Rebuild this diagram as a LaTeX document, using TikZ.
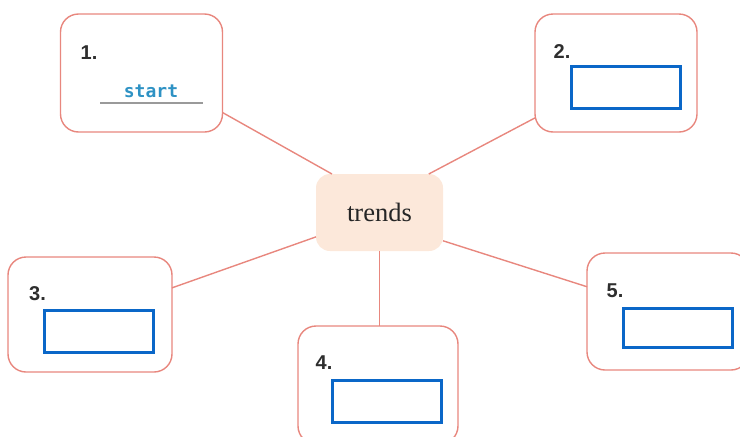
\documentclass[tikz,border=0pt]{standalone}
\usepackage{fontspec}
\setmainfont{Liberation Serif}
\newfontfamily\numfont{Liberation Sans}
\newfontfamily\handfont{DejaVu Sans Mono}
\definecolor{salmon}{HTML}{E8877E}
\definecolor{peach}{HTML}{FCE8DA}
\definecolor{ansblue}{HTML}{0A67C8}
\definecolor{numgray}{HTML}{2E2E2E}
\definecolor{startblue}{HTML}{2E92C4}
\definecolor{linegray}{HTML}{9A9A9A}
\begin{document}
\begin{tikzpicture}[x=1pt,y=-1pt,
  outerbox/.style={draw=salmon,line width=1.4pt,rounded corners=18pt,fill=white,inner sep=0pt,outer sep=0pt},
  hub/.style={fill=peach,rounded corners=14pt,minimum width=127pt,minimum height=77pt,inner sep=0pt,outer sep=0pt,font=\fontsize{26.5}{30}\selectfont,text=black!85},
  link/.style={draw=salmon,line width=1.4pt},
  numlabel/.style={inner sep=0pt,font=\numfont\bfseries\fontsize{20}{24}\selectfont,text=numgray},
  answer/.style={draw=ansblue,line width=3pt,inner sep=0pt,minimum width=109pt,minimum height=42pt}]
\useasboundingbox (0,0) rectangle (740,437);
\clip (0,0) rectangle (740,437);
% outer boxes
\node[outerbox,minimum width=162pt,minimum height=118pt] (b1) at (141.5,73) {};
\node[outerbox,minimum width=162pt,minimum height=118pt] (b2) at (616,73) {};
\node[outerbox,minimum width=164pt,minimum height=115pt] (b3) at (90,314.5) {};
\node[outerbox,minimum width=160pt,minimum height=118pt] (b4) at (378,385) {};
\node[outerbox,minimum width=162pt,minimum height=117pt] (b5) at (668,311.5) {};
% hub
\node[hub] (c) at (379.5,212.5) {trends};
% connectors
\draw[link] (b1.-26) -- (c.141);
\draw[link] (b2.209) -- (c.38);
\draw[link] (b3.18) -- (c.201.7);
\draw[link] (c.-24.4) -- (b5.163);
\draw[link] (c.south) -- (c.south |- b4.north);
% labels
\node[numlabel] (n1) at (89,53) {1.};
\node[numlabel] (n2) at (562,52) {2.};
\node[numlabel] (n3) at (37.5,294) {3.};
\node[numlabel] (n4) at (324,363) {4.};
\node[numlabel] (n5) at (615,291) {5.};
% answer 1
\node[inner sep=0pt,anchor=base,font=\handfont\bfseries\fontsize{18}{21}\selectfont,text=startblue] (s1) at (151,97) {start};
\draw[linegray,line width=2pt] (100,103) -- (203,103);
% answer boxes
\node[answer] (a2) at (626,87.5) {};
\node[answer] (a3) at (99,331) {};
\node[answer] (a4) at (387,401) {};
\node[answer,minimum height=39pt] (a5) at (677.5,327.5) {};
\end{tikzpicture}
\end{document}
